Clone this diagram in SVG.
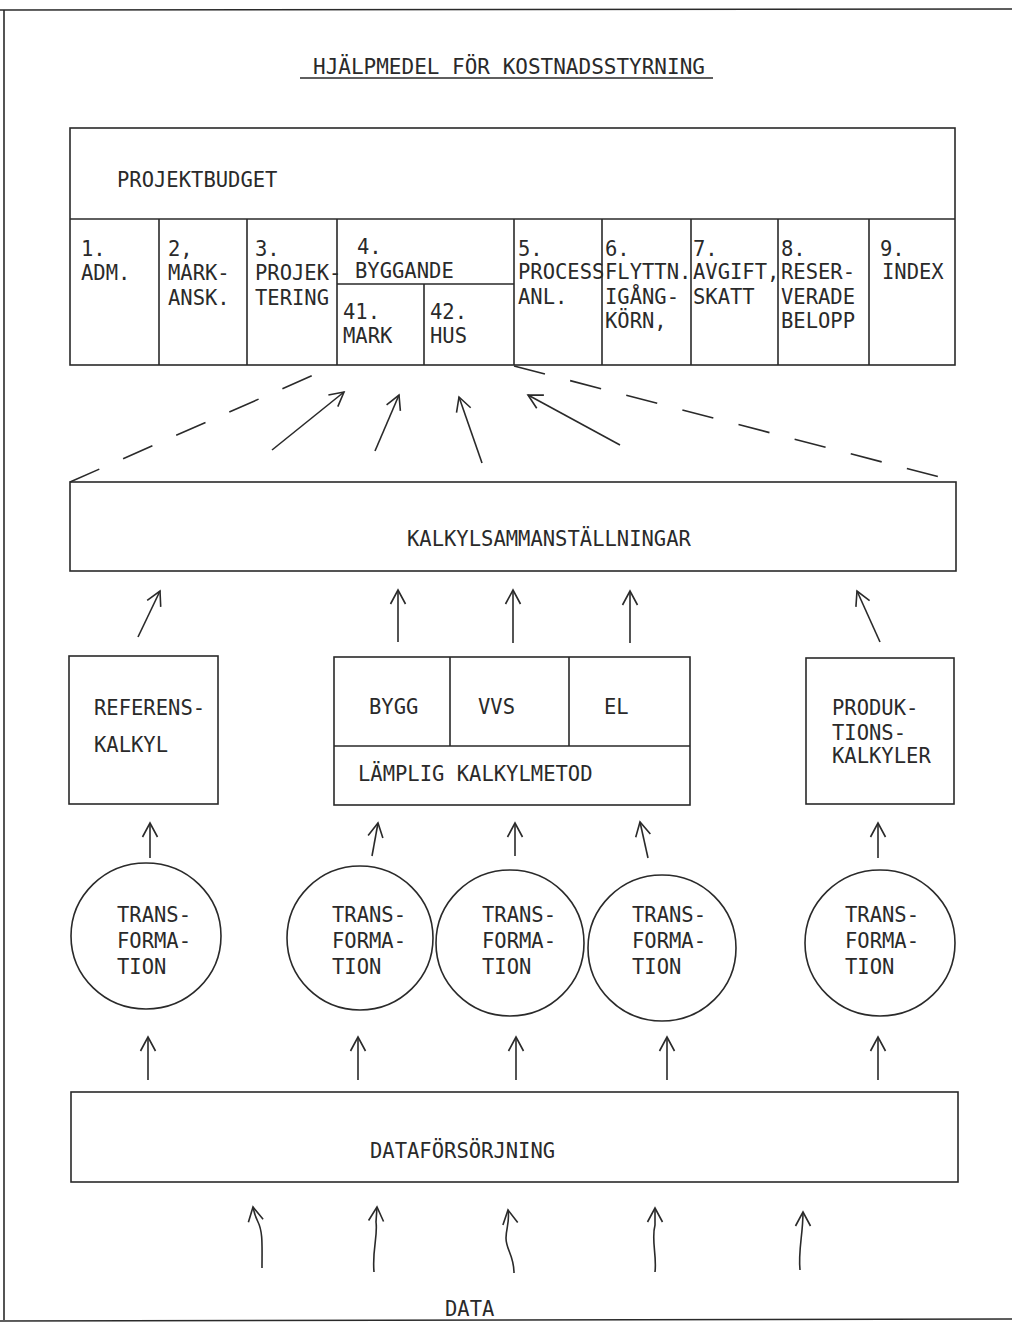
<svg xmlns="http://www.w3.org/2000/svg" width="1012" height="1328" viewBox="0 0 1012 1328">
<defs>
<style>
.t{font-family:"DejaVu Sans Mono","Liberation Mono",monospace;font-size:20.5px;fill:#2a2a2a}
.tt{font-size:21px}
.b{fill:none;stroke:#2a2a2a;stroke-width:1.6}
.c{fill:none;stroke:#2a2a2a;stroke-width:1.6;marker-end:url(#ah)}
.d{fill:none;stroke:#2a2a2a;stroke-width:1.6;stroke-dasharray:32 26}
</style>
<marker id="ah" viewBox="0 0 20 20" refX="18" refY="10" markerWidth="20" markerHeight="20" markerUnits="userSpaceOnUse" orient="auto">
<path d="M4,2.5 L18,10 L4,17.5" fill="none" stroke="#2a2a2a" stroke-width="1.6"/>
</marker>
</defs>
<rect x="0" y="0" width="1012" height="1328" fill="#ffffff"/>
<g id="frame" class="b">
<path d="M0,10 L1012,9"/>
<path d="M4,10 L4,1320"/>
<path d="M0,1321 L1012,1319"/>
</g>
<g id="title">
<text class="t tt" x="313" y="74">HJÄLPMEDEL FÖR KOSTNADSSTYRNING</text>
<path class="b" d="M300,78 L713,78"/>
</g>
<g id="projektbudget">
<rect class="b" x="70" y="128" width="885" height="237"/>
<path class="b" d="M70,219 L955,219"/>
<text class="t" x="117" y="187">PROJEKTBUDGET</text>
<g id="cell-1"><text class="t" x="81" y="256">1.</text><text class="t" x="81" y="280">ADM.</text></g>
<g id="cell-2"><path class="b" d="M159,219 L159,365"/><text class="t" x="168" y="256">2,</text><text class="t" x="168" y="280">MARK-</text><text class="t" x="168" y="305">ANSK.</text></g>
<g id="cell-3"><path class="b" d="M247,219 L247,365"/><text class="t" x="255" y="256">3.</text><text class="t" x="255" y="280">PROJEK-</text><text class="t" x="255" y="305">TERING</text></g>
<g id="cell-4"><path class="b" d="M337,219 L337,365 M337,284 L514,284"/><text class="t" x="357" y="254">4.</text><text class="t" x="355" y="278">BYGGANDE</text></g>
<g id="cell-41"><text class="t" x="343" y="319">41.</text><text class="t" x="343" y="343">MARK</text></g>
<g id="cell-42"><path class="b" d="M424,284 L424,365"/><text class="t" x="430" y="319">42.</text><text class="t" x="430" y="343">HUS</text></g>
<g id="cell-5"><path class="b" d="M514,219 L514,365"/><text class="t" x="518" y="256">5.</text><text class="t" x="518" y="279">PROCESS</text><text class="t" x="518" y="304">ANL.</text></g>
<g id="cell-6"><path class="b" d="M602,219 L602,365"/><text class="t" x="605" y="256">6.</text><text class="t" x="605" y="279">FLYTTN.</text><text class="t" x="605" y="304">IGÅNG-</text><text class="t" x="605" y="328">KÖRN,</text></g>
<g id="cell-7"><path class="b" d="M691,219 L691,365"/><text class="t" x="693" y="256">7.</text><text class="t" x="693" y="279">AVGIFT,</text><text class="t" x="693" y="304">SKATT</text></g>
<g id="cell-8"><path class="b" d="M778,219 L778,365"/><text class="t" x="781" y="256">8.</text><text class="t" x="781" y="279">RESER-</text><text class="t" x="781" y="304">VERADE</text><text class="t" x="781" y="328">BELOPP</text></g>
<g id="cell-9"><path class="b" d="M869,219 L869,365"/><text class="t" x="880" y="256">9.</text><text class="t" x="882" y="279">INDEX</text></g>
</g>
<g id="kalkylsammanstallningar">
<rect class="b" x="70" y="482" width="886" height="89"/>
<text class="t" x="407" y="546">KALKYLSAMMANSTÄLLNINGAR</text>
</g>
<g id="referenskalkyl">
<rect class="b" x="69" y="656" width="149" height="148"/>
<text class="t" x="94" y="715">REFERENS-</text>
<text class="t" x="94" y="752">KALKYL</text>
</g>
<g id="kalkylmetod">
<rect class="b" x="334" y="657" width="356" height="148"/>
<path class="b" d="M334,746 L690,746 M450,657 L450,746 M569,657 L569,746"/>
<text class="t" x="369" y="714">BYGG</text>
<text class="t" x="478" y="714">VVS</text>
<text class="t" x="604" y="714">EL</text>
<text class="t" x="358" y="781">LÄMPLIG KALKYLMETOD</text>
</g>
<g id="produktionskalkyler">
<rect class="b" x="806" y="658" width="148" height="146"/>
<text class="t" x="832" y="715">PRODUK-</text>
<text class="t" x="832" y="740">TIONS-</text>
<text class="t" x="832" y="763">KALKYLER</text>
</g>
<g id="transformation-1"><ellipse class="b" cx="146" cy="936" rx="75" ry="73"/><text class="t" x="117" y="922">TRANS-</text><text class="t" x="117" y="948">FORMA-</text><text class="t" x="117" y="974">TION</text></g>
<g id="transformation-2"><ellipse class="b" cx="360" cy="938" rx="73" ry="72"/><text class="t" x="332" y="922">TRANS-</text><text class="t" x="332" y="948">FORMA-</text><text class="t" x="332" y="974">TION</text></g>
<g id="transformation-3"><ellipse class="b" cx="510" cy="943" rx="74" ry="73"/><text class="t" x="482" y="922">TRANS-</text><text class="t" x="482" y="948">FORMA-</text><text class="t" x="482" y="974">TION</text></g>
<g id="transformation-4"><ellipse class="b" cx="662" cy="948" rx="74" ry="73"/><text class="t" x="632" y="922">TRANS-</text><text class="t" x="632" y="948">FORMA-</text><text class="t" x="632" y="974">TION</text></g>
<g id="transformation-5"><ellipse class="b" cx="880" cy="943" rx="75" ry="73"/><text class="t" x="845" y="922">TRANS-</text><text class="t" x="845" y="948">FORMA-</text><text class="t" x="845" y="974">TION</text></g>
<g id="dataforsorjning">
<rect class="b" x="71" y="1092" width="887" height="90"/>
<text class="t" x="370" y="1158">DATAFÖRSÖRJNING</text>
</g>
<g id="data">
<text class="t" x="445" y="1316">DATA</text>
</g>
<g id="connectors">
<path class="d" d="M70,482 L334,366"/>
<path class="d" d="M514,366 L955,481"/>
<path class="c" d="M272,450 L344,392"/>
<path class="c" d="M375,451 L399,395"/>
<path class="c" d="M482,463 L459,397"/>
<path class="c" d="M620,445 L528,395"/>
<path class="c" d="M138,637 L160,591"/>
<path class="c" d="M398,642 L398,590"/>
<path class="c" d="M513,643 L513,590"/>
<path class="c" d="M630,643 L630,591"/>
<path class="c" d="M880,642 L857,591"/>
<path class="c" d="M150,858 L150,823"/>
<path class="c" d="M372,856 L378,823"/>
<path class="c" d="M515,856 L515,823"/>
<path class="c" d="M648,858 L640,822"/>
<path class="c" d="M878,858 L878,823"/>
<path class="c" d="M148,1080 L148,1037"/>
<path class="c" d="M358,1080 L358,1037"/>
<path class="c" d="M516,1080 L516,1037"/>
<path class="c" d="M667,1080 L667,1037"/>
<path class="c" d="M878,1080 L878,1037"/>
<path class="c" d="M262,1268 C262,1245 263,1232 258,1222 C255,1216 254,1212 253,1207"/>
<path class="c" d="M374,1272 C372,1250 378,1236 376,1222 L377,1207"/>
<path class="c" d="M514,1273 C514,1255 506,1250 506,1238 C506,1228 510,1222 508,1210"/>
<path class="c" d="M655,1272 C657,1255 651,1240 655,1225 L655,1208"/>
<path class="c" d="M800,1270 C798,1250 803,1235 803,1212"/>
</g>
</svg>
